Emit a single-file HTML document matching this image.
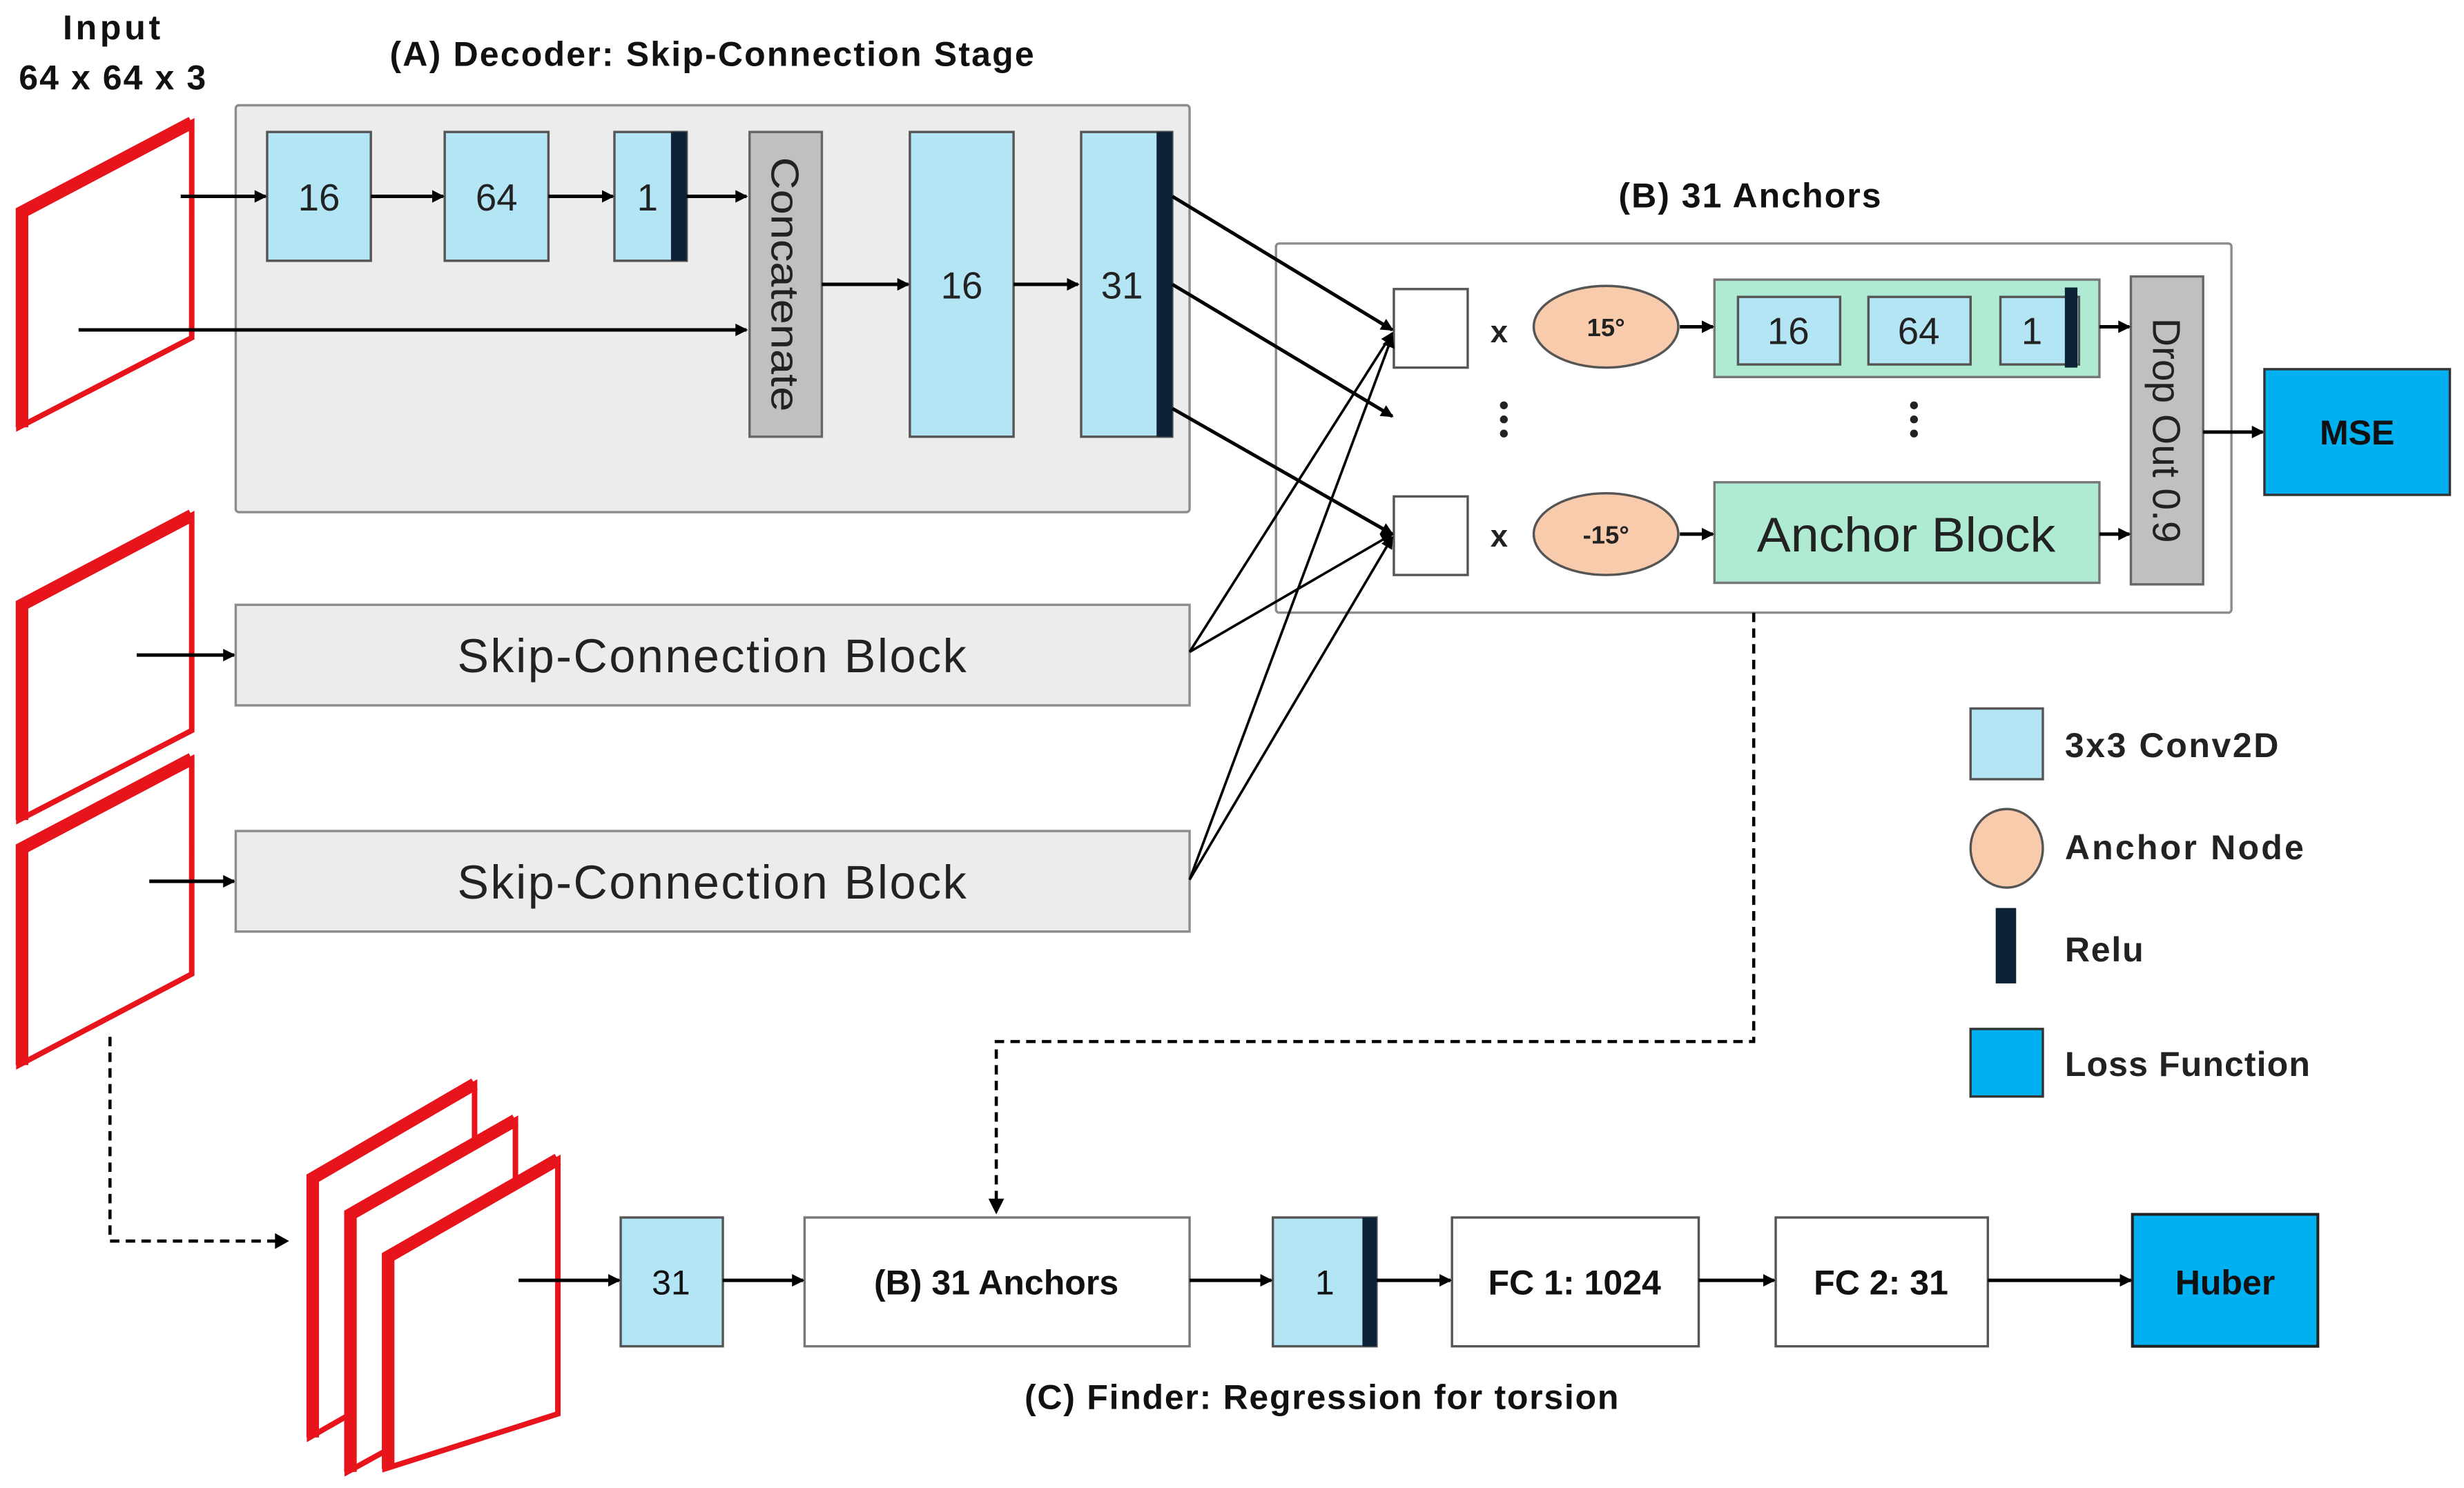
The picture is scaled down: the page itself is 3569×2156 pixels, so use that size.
<!DOCTYPE html>
<html><head><meta charset="utf-8"><style>
html,body{margin:0;padding:0;background:#fff}
svg{display:block}
text{font-family:"Liberation Sans",sans-serif}
</style></head><body>
<svg width="3569" height="2156" viewBox="0 0 1568 947.2" preserveAspectRatio="none" xmlns="http://www.w3.org/2000/svg">
<defs>
<marker id="ar" markerWidth="8" markerHeight="8" refX="7" refY="4" orient="auto" markerUnits="userSpaceOnUse">
<path d="M0,0 L8,4 L0,8 z" fill="#000"/></marker>
</defs>
<!-- titles -->
<g font-weight="bold" font-size="22" fill="#111" lengthAdjust="spacingAndGlyphs">
<text x="40" y="25" textLength="62">Input</text>
<text x="12" y="57" textLength="119">64 x 64 x 3</text>
<text x="248" y="42" textLength="410">(A) Decoder: Skip-Connection Stage</text>
<text x="440" y="312" textLength="121">64 x 64 x 2</text>
<text x="1030" y="132" textLength="167">(B) 31 Anchors</text>
<text x="652" y="897" textLength="378">(C) Finder: Regression for torsion</text>
</g>
<!-- red input frames -->
<g fill="#fff" stroke="#e8141b" stroke-width="3.5" stroke-linejoin="miter">
<polygon points="12,135 122,78 122,215 12,272"/>
<polygon points="12,385 122,328 122,465 12,522"/>
<polygon points="12,540 122,483 122,620 12,678"/>
</g>
<g stroke="#e8141b" stroke-width="8" fill="none">
<polyline points="14,272 14,135 122,78"/>
<polyline points="14,522 14,385 122,328"/>
<polyline points="14,678 14,540 122,483"/>
</g>
<!-- Box A -->
<rect x="150" y="67" width="607" height="259" fill="#ececec" stroke="#8c8c8c" stroke-width="1.5" rx="2"/>
<g fill="#b3e5f5" stroke="#555" stroke-width="1.5">
<rect x="170" y="84" width="66" height="82"/>
<rect x="283" y="84" width="66" height="82"/>
<rect x="391" y="84" width="46" height="82"/>
<rect x="579" y="84" width="66" height="194"/>
<rect x="688" y="84" width="58" height="194"/>
</g>
<rect x="427" y="84" width="10" height="82" fill="#0d2237"/>
<rect x="736" y="84" width="10" height="194" fill="#0d2237"/>
<rect x="477" y="84" width="46" height="194" fill="#c0c0c0" stroke="#666" stroke-width="1.5"/>
<g font-size="24" text-anchor="middle" fill="#222">
<text x="203" y="134">16</text><text x="316" y="134">64</text><text x="412" y="134">1</text>
<text x="612" y="190">16</text><text x="714" y="190">31</text>
</g>
<text transform="translate(491,100) rotate(90)" font-size="25" fill="#222" textLength="162" lengthAdjust="spacingAndGlyphs">Concatenate</text>
<g stroke="#000" stroke-width="2.2" marker-end="url(#ar)">
<line x1="115" y1="125" x2="169" y2="125"/>
<line x1="236" y1="125" x2="282" y2="125"/>
<line x1="349" y1="125" x2="390" y2="125"/>
<line x1="437" y1="125" x2="475" y2="125"/>
<line x1="50" y1="210" x2="475" y2="210"/>
<line x1="523" y1="181" x2="578" y2="181"/>
<line x1="645" y1="181" x2="686" y2="181"/>
<line x1="87" y1="417" x2="149" y2="417"/>
<line x1="95" y1="561" x2="149" y2="561"/>
</g>
<!-- skip blocks -->
<rect x="150" y="385" width="607" height="64" fill="#ececec" stroke="#8c8c8c" stroke-width="1.5"/>
<rect x="150" y="529" width="607" height="64" fill="#ececec" stroke="#8c8c8c" stroke-width="1.5"/>
<g font-size="30" fill="#222" lengthAdjust="spacingAndGlyphs">
<text x="291" y="428" textLength="324">Skip-Connection Block</text>
<text x="291" y="572" textLength="324">Skip-Connection Block</text>
</g>
<!-- Box B -->
<rect x="812" y="155" width="608" height="235" fill="#fff" stroke="#8c8c8c" stroke-width="1.5" rx="2"/>
<rect x="887" y="184" width="47" height="50" fill="#fff" stroke="#555" stroke-width="1.5"/>
<rect x="887" y="316" width="47" height="50" fill="#fff" stroke="#555" stroke-width="1.5"/>
<g font-size="20" font-weight="bold" text-anchor="middle" fill="#222">
<text x="954" y="218">x</text><text x="954" y="348">x</text>
</g>
<ellipse cx="1022" cy="208" rx="46" ry="26" fill="#f8cbad" stroke="#555" stroke-width="1.5"/>
<ellipse cx="1022" cy="340" rx="46" ry="26" fill="#f8cbad" stroke="#555" stroke-width="1.5"/>
<g font-size="16" font-weight="bold" text-anchor="middle" fill="#222">
<text x="1022" y="214">15°</text><text x="1022" y="346">-15°</text>
</g>
<rect x="1091" y="178" width="245" height="62" fill="#aeebd2" stroke="#777" stroke-width="1.5"/>
<g fill="#b3e5f5" stroke="#555" stroke-width="1.5">
<rect x="1106" y="189" width="65" height="43"/>
<rect x="1189" y="189" width="65" height="43"/>
<rect x="1273" y="189" width="50" height="43"/>
</g>
<rect x="1314" y="183" width="8" height="51" fill="#0d2237"/>
<g font-size="24" text-anchor="middle" fill="#222">
<text x="1138" y="219">16</text><text x="1221" y="219">64</text><text x="1293" y="219">1</text>
</g>
<rect x="1091" y="307" width="245" height="64" fill="#aeebd2" stroke="#777" stroke-width="1.5"/>
<text x="1118" y="351" font-size="31" fill="#222" textLength="190" lengthAdjust="spacingAndGlyphs">Anchor Block</text>
<rect x="1356" y="176" width="46" height="196" fill="#c0c0c0" stroke="#666" stroke-width="1.5"/>
<text transform="translate(1370,274) rotate(90)" font-size="25" text-anchor="middle" fill="#222">Drop Out 0.9</text>
<g fill="#222">
<circle cx="957" cy="258" r="2.5"/><circle cx="957" cy="267" r="2.5"/><circle cx="957" cy="276" r="2.5"/>
<circle cx="1218" cy="258" r="2.5"/><circle cx="1218" cy="267" r="2.5"/><circle cx="1218" cy="276" r="2.5"/>
</g>
<g stroke="#000" stroke-width="2.2" marker-end="url(#ar)">
<line x1="1069" y1="208" x2="1090" y2="208"/>
<line x1="1069" y1="340" x2="1090" y2="340"/>
<line x1="1336" y1="208" x2="1355" y2="208"/>
<line x1="1336" y1="340" x2="1355" y2="340"/>
<line x1="1402" y1="275" x2="1440" y2="275"/>
<line x1="746" y1="125" x2="886" y2="210"/>
<line x1="746" y1="181" x2="886" y2="265"/>
<line x1="746" y1="260" x2="886" y2="340"/>
</g>
<g stroke="#000" stroke-width="1.6" marker-end="url(#ar)">
<line x1="757" y1="415" x2="886" y2="212"/>
<line x1="757" y1="415" x2="886" y2="340"/>
<line x1="757" y1="560" x2="886" y2="214"/>
<line x1="757" y1="560" x2="886" y2="342"/>
</g>
<rect x="1441" y="235" width="118" height="80" fill="#00b0f0" stroke="#333" stroke-width="1.5"/>
<text x="1500" y="283" font-size="22" font-weight="bold" text-anchor="middle" fill="#111">MSE</text>
<!-- dashed -->
<g stroke="#000" stroke-width="2" stroke-dasharray="6,4" fill="none">
<polyline points="1116,390 1116,663 634,663 634,765"/>
<polyline points="70,660 70,790 176,790"/>
</g>
<path d="M629,763 L634,773 L639,763 z" fill="#000"/>
<path d="M175,785 L184,790 L175,795 z" fill="#000"/>
<!-- legend -->
<rect x="1254" y="451" width="46" height="45" fill="#b3e5f5" stroke="#555" stroke-width="1.5"/>
<ellipse cx="1277" cy="540" rx="23" ry="25" fill="#f8cbad" stroke="#555" stroke-width="1.5"/>
<rect x="1270" y="578" width="13" height="48" fill="#0d2237"/>
<rect x="1254" y="655" width="46" height="43" fill="#00b0f0" stroke="#333" stroke-width="1.5"/>
<g font-size="22" font-weight="bold" fill="#222" lengthAdjust="spacingAndGlyphs">
<text x="1314" y="482" textLength="136">3x3 Conv2D</text>
<text x="1314" y="547" textLength="152">Anchor Node</text>
<text x="1314" y="612" textLength="50">Relu</text>
<text x="1314" y="685" textLength="156">Loss Function</text>
</g>
<!-- bottom frames -->
<g fill="#fff" stroke="#e8141b" stroke-width="3.5">
<polygon points="197,750 302,690 302,855 197,915"/>
<polygon points="221,773 328,713 328,878 221,937"/>
<polygon points="245,800 355,738 355,900 245,935"/>
</g>
<g stroke="#e8141b" stroke-width="8" fill="none">
<polyline points="199,915 199,750 302,690"/>
<polyline points="223,937 223,773 328,713"/>
<polyline points="247,935 247,800 355,738"/>
</g>
<!-- bottom row -->
<rect x="395" y="775" width="65" height="82" fill="#b3e5f5" stroke="#555" stroke-width="1.5"/>
<rect x="512" y="775" width="245" height="82" fill="#fff" stroke="#777" stroke-width="1.5"/>
<rect x="810" y="775" width="66" height="82" fill="#b3e5f5" stroke="#555" stroke-width="1.5"/>
<rect x="867" y="775" width="9" height="82" fill="#0d2237"/>
<rect x="924" y="775" width="157" height="82" fill="#fff" stroke="#555" stroke-width="1.5"/>
<rect x="1130" y="775" width="135" height="82" fill="#fff" stroke="#555" stroke-width="1.5"/>
<rect x="1357" y="773" width="118" height="84" fill="#00b0f0" stroke="#222" stroke-width="1.8"/>
<g font-size="22" text-anchor="middle" fill="#111">
<text x="427" y="824">31</text>
<text x="843" y="824">1</text>
</g>
<g font-size="22" font-weight="bold" text-anchor="middle" fill="#111">
<text x="634" y="824">(B) 31 Anchors</text>
<text x="1002" y="824">FC 1: 1024</text>
<text x="1197" y="824">FC 2: 31</text>
<text x="1416" y="824">Huber</text>
</g>
<g stroke="#000" stroke-width="2.2" marker-end="url(#ar)">
<line x1="330" y1="815" x2="394" y2="815"/>
<line x1="460" y1="815" x2="511" y2="815"/>
<line x1="757" y1="815" x2="809" y2="815"/>
<line x1="876" y1="815" x2="923" y2="815"/>
<line x1="1081" y1="815" x2="1129" y2="815"/>
<line x1="1265" y1="815" x2="1356" y2="815"/>
</g>
</svg>
</body></html>
